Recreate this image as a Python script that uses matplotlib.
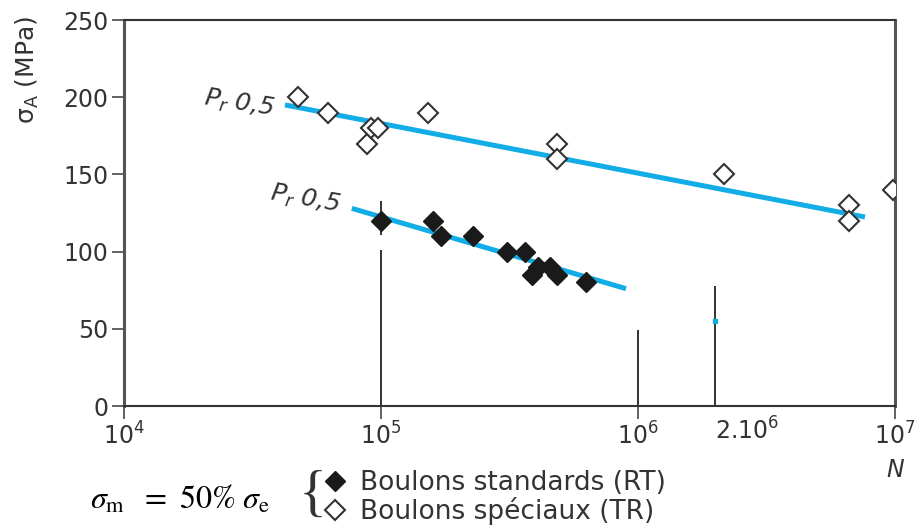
import numpy as np
import matplotlib.pyplot as plt
from matplotlib.transforms import blended_transform_factory

plt.rcParams['font.family'] = ['DejaVu Sans']

# Boulons standards (RT) - filled diamonds
std_n = [1.0e5, 1.59e5, 1.71e5, 2.28e5, 3.09e5, 3.63e5, 4.08e5, 3.87e5, 4.55e5, 4.84e5, 6.28e5]
std_s = [120, 120, 110, 110, 100, 100, 90, 85, 90, 85, 80]

# Boulons speciaux (TR) - open diamonds
spe_n = [4.75e4, 6.22e4, 8.81e4, 9.14e4, 9.73e4, 1.52e5, 4.84e5, 4.84e5, 2.16e6, 6.62e6, 6.62e6, 9.8e6]
spe_s = [200, 190, 170, 180, 180, 190, 170, 160, 150, 130, 120, 140]

# P_r 0,5 lines (end points)
fit_spe_n = [4.23e4, 7.64e6]
fit_spe_s = [195, 122.4]
fit_std_n = [7.7e4, 8.98e5]
fit_std_s = [128, 76]

# vertical marks
vl_n = [1e5, 1e5, 1e6, 2e6]
vl_lo = [0, 111, 0, 0]
vl_hi = [101, 133, 49, 78]

xticks = [1e4, 1e5, 1e6, 1e7]
xlabels = [r'$\mathregular{10^{4}}$', r'$\mathregular{10^{5}}$', r'$\mathregular{10^{6}}$', r'$\mathregular{10^{7}}$']
yticks = [0, 50, 100, 150, 200, 250]

blue = '#12ace6'
grey = '#555555'
txt = '#333333'

fig = plt.figure(figsize=(9.2, 5.27), dpi=100)
ax = fig.add_axes([124/920, 1-406/527, (895-124)/920, (406-20)/527])
ax.set_xscale('log')
ax.set_xlim(1e4, 1e7)
ax.set_ylim(0, 250)

ax.vlines(vl_n, vl_lo, vl_hi, color='#222222', lw=1.3, zorder=2)
ax.plot(fit_spe_n, fit_spe_s, color=blue, lw=3.6, solid_capstyle='butt', zorder=3)
ax.plot(fit_std_n, fit_std_s, color=blue, lw=3.6, solid_capstyle='butt', zorder=3)
ax.plot([2e6], [55], 's', color=blue, ms=2.5, zorder=3)

ax.plot(std_n, std_s, 'D', ls='none', ms=10.5, mfc='#1a1a1a', mec='#1a1a1a', mew=1.0,
        zorder=4, label='Boulons standards (RT)')
ax.plot(spe_n, spe_s, 'D', ls='none', ms=10.5, mfc='white', mec='#333333', mew=1.5,
        zorder=4, label='Boulons spéciaux (TR)')

ax.text(2.8e4, 196, r'$P_r$ 0,5', fontsize=18, style='italic', color=txt,
        rotation=-9, ha='center', va='center')
ax.text(5.1e4, 134, r'$P_r$ 0,5', fontsize=18, style='italic', color=txt,
        rotation=-10, ha='center', va='center')

ax.set_xticks(xticks)
ax.set_xticklabels(xlabels)
ax.xaxis.set_minor_locator(plt.NullLocator())
ax.set_yticks(yticks)
ax.tick_params(axis='both', direction='out', length=9, width=1.3, color=grey,
               labelsize=17, labelcolor=txt)
ax.tick_params(axis='x', pad=3)
ax.tick_params(axis='y', pad=2)
for side in ['left', 'right']:
    ax.spines[side].set_color(grey)
    ax.spines[side].set_linewidth(2.2)
for side in ['top', 'bottom']:
    ax.spines[side].set_color('#333333')
    ax.spines[side].set_linewidth(1.5)

tr = blended_transform_factory(ax.transData, ax.transAxes)
ax.text(2e6, -0.03, r'2.10$\mathregular{^{6}}$', transform=tr, ha='left', va='top',
        fontsize=17, color=txt)
ax.text(1e7, -0.135, 'N', transform=tr, ha='center', va='top', fontsize=17,
        style='italic', color=txt)

fig.text(27/920, 1-70/527, r'σ$\mathregular{_A}$ (MPa)', rotation=90, ha='center',
         va='center', fontsize=18, color=txt)

fig.text(90/920, 1-500/527, r'$\sigma_\mathrm{m}\ \ =\ 50\%\ \sigma_\mathrm{e}$',
         math_fontfamily='stix', fontsize=23, ha='left', va='center', color='black')
fig.text(299/920, 1-497/527, '{', fontsize=42, ha='left', va='center', color=txt,
         family='Liberation Serif')

leg = fig.legend(loc='upper left', bbox_to_anchor=(324/920, 1-470/527), frameon=False,
                 fontsize=19, handlelength=0.8, handletextpad=0.55, labelspacing=0.05,
                 borderpad=0, borderaxespad=0, markerscale=0.95)
for t in leg.get_texts():
    t.set_color(txt)

fig.savefig('out.png', dpi=100)
